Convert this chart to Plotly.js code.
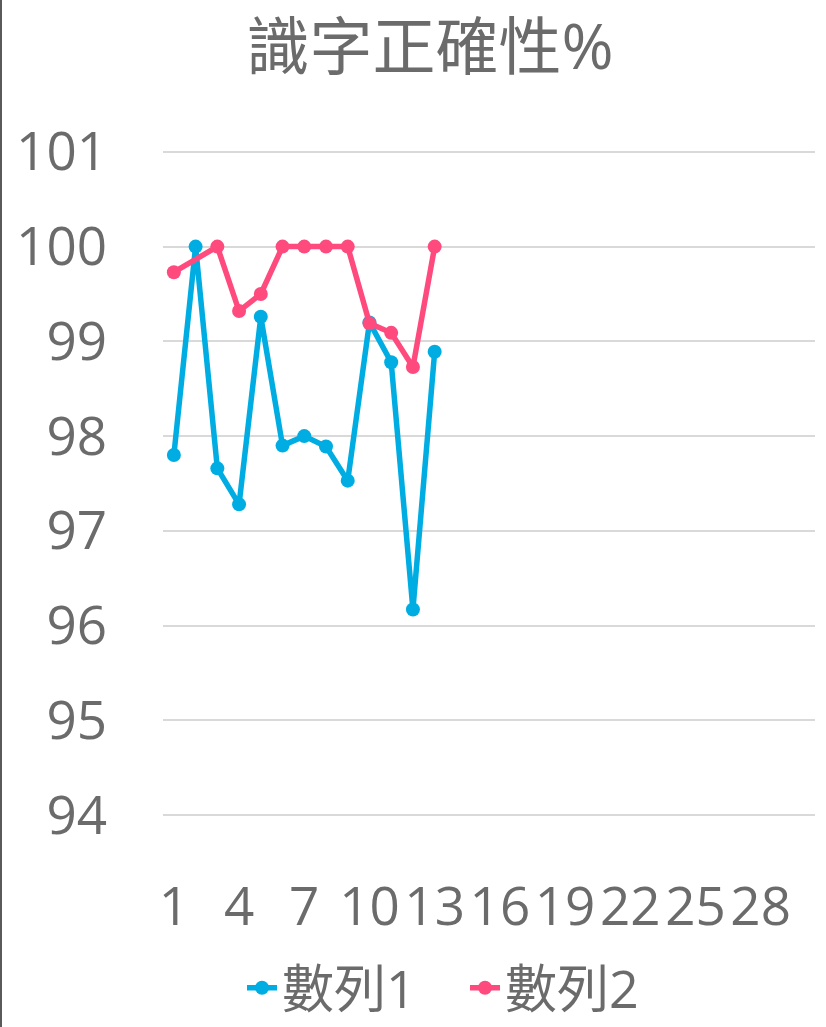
<!DOCTYPE html>
<html>
<head>
<meta charset="utf-8">
<script src="https://cdn.plot.ly/plotly-3.0.1.min.js"></script>
<style>
html,body{margin:0;padding:0;background:#fff;}
#wrap{position:relative;width:826px;height:1027px;}
#edge{position:absolute;left:0;top:0;width:2px;height:1027px;background:#5a5a5a;z-index:5;}
</style>
</head>
<body>
<div id="wrap"><div id="edge"></div><div id="chart"></div></div>
<script>
const categories = Array.from({length: 30}, (_, i) => String(i + 1));
const tickLabels = ['1','4','7','10','13','16','19','22','25','28'];
const series1Name = '數列1';
const series2Name = '數列2';
const series1 = [97.80, 100.00, 97.66, 97.28, 99.26, 97.90, 98.00, 97.89, 97.53, 99.20, 98.78, 96.17, 98.89];
const series2 = [99.73, null, 100.00, 99.32, 99.50, 100.00, 100.00, 100.00, 100.00, 99.19, 99.09, 98.73, 100.00];
const yTicks = [94, 95, 96, 97, 98, 99, 100, 101];
const titleText = '識字正確性%';

const font = '"Open Sans", "Noto Sans CJK TC", sans-serif';
const txt = '#6b6b6b';

const traces = [
  {x: categories.slice(0, series1.length), y: series1, name: series1Name, type: 'scatter', mode: 'lines+markers',
   line: {color: '#00ADE2', width: 5.5}, marker: {color: '#00ADE2', size: 14}},
  {x: categories.slice(0, series2.length), y: series2, name: series2Name, type: 'scatter', mode: 'lines+markers',
   connectgaps: true,
   line: {color: '#FF4A7E', width: 5.5}, marker: {color: '#FF4A7E', size: 14}}
];

const layout = {
  width: 826, height: 1027,
  margin: {l: 163, r: 11, t: 149, b: 209},
  paper_bgcolor: '#ffffff', plot_bgcolor: '#ffffff',
  font: {family: font, color: txt, size: 50},
  title: {text: titleText, font: {family: font, size: 63, color: txt},
          x: 430/826, xref: 'container', xanchor: 'center', y: 1 - 47/1027, yref: 'container', yanchor: 'middle'},
  xaxis: {type: 'category', categoryorder: 'array', categoryarray: categories,
          range: [-0.5, 29.5], tickmode: 'array', tickvals: tickLabels, ticktext: tickLabels,
          showgrid: false, zeroline: false, showline: false, ticks: '',
          tickfont: {family: font, size: 53, color: txt}, ticklabelstandoff: 53},
  yaxis: {range: [93.97, 101.03], tickvals: yTicks, showgrid: true, gridcolor: '#d9d9d9', gridwidth: 2,
          zeroline: false, showline: false, ticks: '',
          tickfont: {family: font, size: 53, color: txt}, ticklabelstandoff: 55},
  showlegend: true,
  legend: {orientation: 'h', xref: 'container', yref: 'container', x: 242/826, xanchor: 'left',
           y: 1 - 988/1027, yanchor: 'middle', font: {family: font, size: 52, color: txt},
           entrywidth: 178, entrywidthmode: 'pixels', bgcolor: 'rgba(0,0,0,0)'}
};

Plotly.newPlot('chart', traces, layout, {displayModeBar: false, staticPlot: true});
</script>
</body>
</html>
